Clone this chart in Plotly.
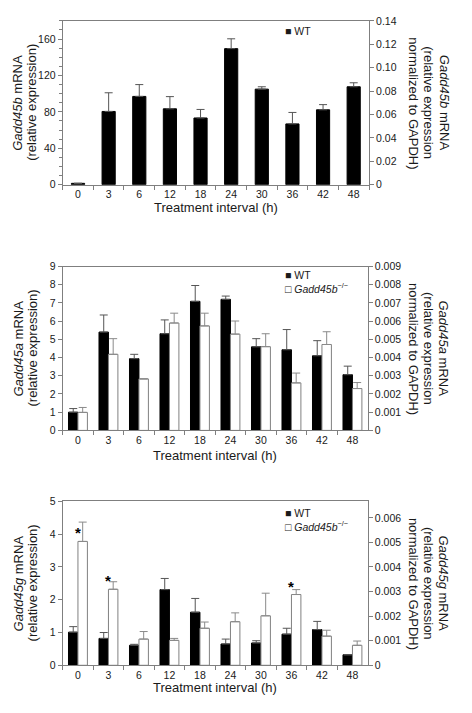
import plotly.graph_objects as go

categories = ["0", "3", "6", "12", "18", "24", "30", "36", "42", "48"]

# Gadd45b (WT only)
b_wt = [1.5, 80.5, 97, 83.4, 73.3, 149.5, 105, 66.8, 82.3, 107.6]
b_wt_err = [0, 20.5, 13, 13.4, 9.4, 10.8, 2.6, 12.6, 5.7, 4.4]

# Gadd45a
a_wt = [1.0, 5.4, 3.94, 5.31, 7.09, 7.2, 4.59, 4.43, 4.1, 3.06]
a_wt_err = [0.2, 0.94, 0.24, 0.76, 0.87, 0.18, 0.45, 1.11, 0.83, 0.47]
a_ko = [0.99, 4.18, 2.83, 5.9, 5.74, 5.29, 4.6, 2.61, 4.72, 2.3]
a_ko_err = [0.27, 0.86, 0, 0.54, 0.7, 0.72, 0.71, 0.54, 0.7, 0.33]

# Gadd45g
g_wt = [1.01, 0.82, 0.61, 2.31, 1.62, 0.65, 0.68, 0.95, 1.09, 0.32]
g_wt_err = [0.17, 0.18, 0.03, 0.34, 0.42, 0.15, 0.07, 0.18, 0.25, 0]
g_ko = [3.78, 2.32, 0.8, 0.76, 1.13, 1.33, 1.51, 2.16, 0.89, 0.61]
g_ko_err = [0.59, 0.23, 0.23, 0.06, 0.19, 0.27, 0.69, 0.15, 0.18, 0.13]

# significance markers (Gadd45g)
star_x = ["0", "3", "36"]
star_y = [4.14, 2.69, 2.5]

left_ticks_b = [0, 40, 80, 120, 160]
right_ticks_b = [0, 0.02, 0.04, 0.06, 0.08, 0.10, 0.12, 0.14]
right_text_b = ["0", "0.02", "0.04", "0.06", "0.08", "0.10", "0.12", "0.14"]
left_ticks_a = [0, 1, 2, 3, 4, 5, 6, 7, 8, 9]
right_ticks_a = [0, 0.001, 0.002, 0.003, 0.004, 0.005, 0.006, 0.007, 0.008, 0.009]
right_text_a = ["0", "0.001", "0.002", "0.003", "0.004", "0.005", "0.006", "0.007", "0.008", "0.009"]
left_ticks_g = [0, 1, 2, 3, 4, 5]
right_ticks_g = [0, 0.001, 0.002, 0.003, 0.004, 0.005, 0.006]
right_text_g = ["0", "0.001", "0.002", "0.003", "0.004", "0.005", "0.006"]

# page has an 8px default body margin: figure is offset by (8, 8)
OFF = 8
W, H = 472 - OFF, 713 - 2 * OFF
FONT = "Liberation Sans, Arial, sans-serif"
AX = "#7f7f7f"
TXT = "#1a1a1a"


def px_(x):
    return (x - OFF) / W


def py_(y):
    return 1 - (y - OFF) / H


def err(vals, color):
    return dict(type="data", array=vals, arrayminus=[0] * len(vals), symmetric=False,
                color=color, thickness=1, width=4)


fig = go.Figure()

wt_marker = dict(color="black", line=dict(color="black", width=1))
ko_marker = dict(color="white", line=dict(color="#808080", width=1))

fig.add_trace(go.Bar(x=categories, y=b_wt, xaxis="x", yaxis="y", width=0.43, offset=-0.215,
                     marker=wt_marker, error_y=err(b_wt_err, "#555555"), name="WT"))
fig.add_trace(go.Bar(x=categories, y=a_wt, xaxis="x2", yaxis="y2", width=0.31, offset=-0.31,
                     marker=wt_marker, error_y=err(a_wt_err, "#555555"), name="WT"))
fig.add_trace(go.Bar(x=categories, y=a_ko, xaxis="x2", yaxis="y2", width=0.31, offset=0,
                     marker=ko_marker, error_y=err(a_ko_err, "#8a8a8a"), name="Gadd45b-/-"))
fig.add_trace(go.Bar(x=categories, y=g_wt, xaxis="x3", yaxis="y3", width=0.31, offset=-0.31,
                     marker=wt_marker, error_y=err(g_wt_err, "#555555"), name="WT"))
fig.add_trace(go.Bar(x=categories, y=g_ko, xaxis="x3", yaxis="y3", width=0.31, offset=0,
                     marker=ko_marker, error_y=err(g_ko_err, "#8a8a8a"), name="Gadd45b-/-"))

# empty traces so the secondary (right) axes are drawn
for xa, ya in (("x", "y4"), ("x2", "y5"), ("x3", "y6")):
    fig.add_trace(go.Scatter(x=[], y=[], xaxis=xa, yaxis=ya, mode="markers",
                             hoverinfo="skip", showlegend=False))

# panel geometry in page pixels: (left, right, top, bottom)
panels = [(62.7, 369.0, 15.0, 181.7), (62.7, 367.7, 265.0, 431.7), (62.7, 367.7, 504.0, 670.7)]
left_cfg = [([0, 180], left_ticks_b, True), ([0, 9], left_ticks_a, False), ([0, 5], left_ticks_g, False)]
right_cfg = [([0, 0.14], right_ticks_b, right_text_b),
             ([0, 0.009], right_ticks_a, right_text_a),
             ([0, 5 * 0.006 / 4.5], right_ticks_g, right_text_g)]

tickfont = dict(family=FONT, size=10.5, color=TXT)
layout = dict(width=W, height=H, margin=dict(l=0, r=0, t=0, b=0),
              paper_bgcolor="white", plot_bgcolor="white", barmode="overlay",
              font=dict(family=FONT, color=TXT), showlegend=False)

for i, (l, r, t, b) in enumerate(panels):
    n = i + 1
    xs = "" if n == 1 else str(n)
    ydom = [py_(b), py_(t)]
    layout["xaxis" + xs] = dict(domain=[px_(l), px_(r)], anchor="y" + xs, type="category",
                                range=[-0.5, 9.5], showline=True, linecolor=AX, linewidth=1,
                                mirror=True, ticks="outside", tickson="boundaries", ticklen=4,
                                tickcolor=AX, tickfont=tickfont, showgrid=False, zeroline=False,
                                fixedrange=True)
    rng, tv, minor = left_cfg[i]
    ya = dict(domain=ydom, anchor="x" + xs, range=rng, tickvals=tv, showline=True, linecolor=AX,
              linewidth=1, ticks="outside", ticklen=4, tickcolor=AX, tickfont=tickfont,
              showgrid=False, zeroline=False)
    if minor:
        ya["minor"] = dict(dtick=10, tick0=0, ticks="outside", ticklen=2.5, tickcolor=AX, showgrid=False)
    layout["yaxis" + xs] = ya
    rr, rtv, rtt = right_cfg[i]
    layout["yaxis" + str(n + 3)] = dict(overlaying="y" + xs, anchor="x" + xs, side="right",
                                        range=rr, tickvals=rtv, ticktext=rtt, showline=True,
                                        linecolor=AX, linewidth=1, ticks="outside", ticklen=4,
                                        tickcolor=AX, tickfont=tickfont, showgrid=False,
                                        zeroline=False)

fig.update_layout(**layout)

# axis-title annotations
genes = ["Gadd45b", "Gadd45a", "Gadd45g"]
xtitle_y = [205, 457, 693]
legend_y = [25, 281, 523]
ann = []
tf = dict(family=FONT, size=13, color=TXT)
for i, (l, r, t, b) in enumerate(panels):
    mid = py_((t + b) / 2)
    g = genes[i]
    ann.append(dict(xref="paper", yref="paper", x=px_(18), y=mid, text="<i>%s</i> mRNA" % g,
                    textangle=-90, showarrow=False, font=tf, xanchor="center", yanchor="middle"))
    ann.append(dict(xref="paper", yref="paper", x=px_(32), y=mid, text="(relative expression)",
                    textangle=-90, showarrow=False, font=tf, xanchor="center", yanchor="middle"))
    ann.append(dict(xref="paper", yref="paper", x=px_(444), y=mid, text="<i>%s</i> mRNA" % g,
                    textangle=90, showarrow=False, font=tf, xanchor="center", yanchor="middle"))
    ann.append(dict(xref="paper", yref="paper", x=px_(428.5), y=mid, text="(relative expression",
                    textangle=90, showarrow=False, font=tf, xanchor="center", yanchor="middle"))
    ann.append(dict(xref="paper", yref="paper", x=px_(413.5), y=mid, text="normalized to GAPDH)",
                    textangle=90, showarrow=False, font=tf, xanchor="center", yanchor="middle"))
    ann.append(dict(xref="paper", yref="paper", x=px_((l + r) / 2), y=py_(xtitle_y[i]),
                    text="Treatment interval (h)", showarrow=False, font=tf,
                    xanchor="center", yanchor="middle"))
    if i == 0:
        leg = "■ WT"
    else:
        leg = "■ WT<br>□ <i>Gadd45b</i><sup>−/−</sup>"
    ann.append(dict(xref="paper", yref="paper", x=px_(283), y=py_(legend_y[i]), text=leg,
                    showarrow=False, align="left", xanchor="left", yanchor="middle",
                    font=dict(family=FONT, size=10.5, color=TXT)))

for sx, sy in zip(star_x, star_y):
    ann.append(dict(xref="x3", yref="y3", x=categories.index(sx), y=sy, text="<b>*</b>",
                    showarrow=False, yshift=-3, font=dict(family=FONT, size=15, color="black")))

fig.update_layout(annotations=ann)
fig.write_html("out.html")
